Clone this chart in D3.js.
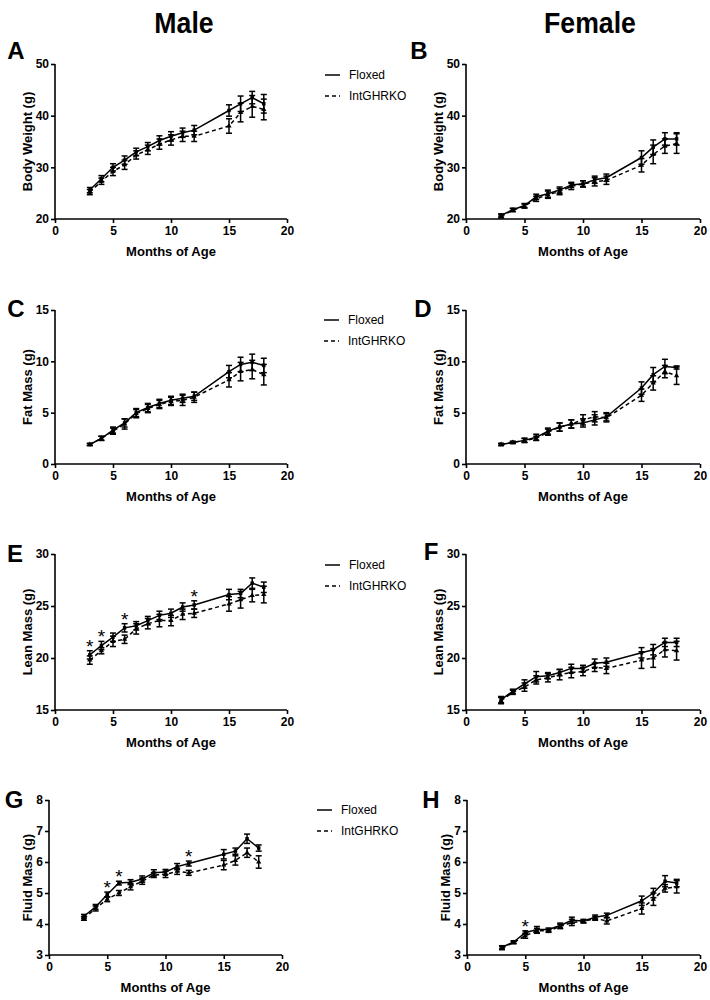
<!DOCTYPE html>
<html>
<head>
<meta charset="utf-8">
<script src="https://cdn.jsdelivr.net/npm/d3@7"></script>
<style>
  html, body { margin: 0; padding: 0; background: #fff; }
  svg { display: block; }
  text { font-family: "Liberation Sans", Arial, sans-serif; fill: #000; }
</style>
</head>
<body>
<svg id="chart" width="710" height="1000"></svg>
<script>
// ---------------- DATA ----------------
const months = [3, 4, 5, 6, 7, 8, 9, 10, 11, 12, 15, 16, 17, 18];
const seriesNames = ["Floxed", "IntGHRKO"];
const columnTitles = ["Male", "Female"];
const panelLetters = ["A", "B", "C", "D", "E", "F", "G", "H"];
const xTicks = [0, 5, 10, 15, 20];

// Body weight (g)
const bwMaleFlox   = [25.6, 27.8, 30.0, 31.4, 33.0, 34.0, 35.2, 36.0, 36.7, 37.2, 41.0, 42.3, 43.5, 42.3];
const bwMaleFloxSem= [0.5, 0.6, 0.7, 0.8, 0.7, 0.8, 0.9, 0.9, 0.9, 0.9, 1.1, 1.5, 1.2, 1.8];
const bwMaleKO     = [25.2, 27.3, 29.2, 30.5, 32.4, 33.4, 34.5, 35.3, 36.0, 36.0, 38.0, 40.6, 41.8, 41.2];
const bwMaleKOSem  = [0.5, 0.6, 0.8, 0.9, 0.8, 0.9, 1.0, 1.0, 1.0, 1.0, 1.4, 1.8, 2.1, 2.0];
const bwFemFlox    = [20.7, 21.8, 22.6, 24.3, 24.9, 25.6, 26.6, 26.8, 27.6, 28.0, 31.9, 33.9, 35.5, 35.5];
const bwFemFloxSem = [0.3, 0.3, 0.4, 0.5, 0.7, 0.6, 0.5, 0.6, 0.7, 0.7, 1.3, 1.4, 1.2, 1.2];
const bwFemKO      = [20.5, 21.7, 22.5, 23.9, 24.7, 25.3, 26.3, 26.8, 27.2, 27.5, 30.4, 32.5, 34.1, 34.6];
const bwFemKOSem   = [0.3, 0.3, 0.4, 0.5, 0.7, 0.6, 0.6, 0.6, 0.8, 0.8, 1.3, 1.8, 1.4, 1.9];

// Fat mass (g)
const fatMaleFlox    = [1.9, 2.5, 3.3, 4.0, 5.0, 5.5, 5.9, 6.2, 6.4, 6.6, 9.0, 9.7, 9.9, 9.6];
const fatMaleFloxSem = [0.1, 0.2, 0.3, 0.4, 0.4, 0.4, 0.4, 0.4, 0.4, 0.4, 0.6, 0.7, 0.8, 0.7];
const fatMaleKO      = [1.9, 2.5, 3.2, 3.9, 4.9, 5.4, 5.8, 6.1, 6.2, 6.5, 8.2, 9.0, 9.2, 8.7];
const fatMaleKOSem   = [0.1, 0.2, 0.3, 0.5, 0.4, 0.4, 0.4, 0.4, 0.5, 0.5, 0.7, 0.9, 0.9, 1.0];
const fatFemFlox     = [1.9, 2.1, 2.3, 2.6, 3.2, 3.6, 3.9, 4.0, 4.3, 4.6, 7.4, 8.7, 9.5, 9.4];
const fatFemFloxSem  = [0.1, 0.1, 0.2, 0.3, 0.3, 0.4, 0.4, 0.4, 0.5, 0.4, 0.6, 0.7, 0.7, 0.15];
const fatFemKO       = [1.9, 2.1, 2.3, 2.5, 3.1, 3.6, 3.9, 4.3, 4.6, 4.5, 6.7, 7.9, 9.0, 8.6];
const fatFemKOSem    = [0.1, 0.1, 0.2, 0.2, 0.3, 0.4, 0.4, 0.5, 0.5, 0.4, 0.6, 0.7, 0.6, 0.85];

// Lean mass (g)
const leanMaleFlox    = [20.3, 21.2, 22.0, 22.9, 23.1, 23.6, 24.1, 24.3, 24.9, 25.1, 26.1, 26.2, 27.2, 26.8];
const leanMaleFloxSem = [0.4, 0.4, 0.4, 0.4, 0.4, 0.4, 0.4, 0.4, 0.4, 0.4, 0.5, 0.4, 0.5, 0.5];
const leanMaleKO      = [19.8, 20.7, 21.6, 21.8, 22.8, 23.3, 23.6, 23.6, 24.2, 24.3, 25.2, 25.6, 26.0, 26.1];
const leanMaleKOSem   = [0.4, 0.3, 0.5, 0.4, 0.5, 0.5, 0.6, 0.5, 0.5, 0.4, 0.7, 0.8, 0.6, 0.8];
const leanFemFlox     = [16.0, 16.8, 17.5, 18.2, 18.3, 18.6, 19.0, 19.0, 19.5, 19.6, 20.5, 20.8, 21.5, 21.5];
const leanFemFloxSem  = [0.3, 0.2, 0.4, 0.5, 0.3, 0.3, 0.4, 0.3, 0.4, 0.4, 0.5, 0.5, 0.4, 0.4];
const leanFemKO       = [15.9, 16.7, 17.2, 17.9, 18.1, 18.4, 18.6, 18.7, 19.1, 19.0, 19.8, 20.0, 20.8, 20.7];
const leanFemKOSem    = [0.3, 0.2, 0.4, 0.4, 0.4, 0.5, 0.5, 0.4, 0.4, 0.5, 0.8, 0.9, 0.7, 0.9];

// Fluid mass (g)
const fluidMaleFlox    = [4.25, 4.55, 4.95, 5.32, 5.35, 5.45, 5.65, 5.68, 5.85, 5.95, 6.25, 6.35, 6.75, 6.45];
const fluidMaleFloxSem = [0.06, 0.08, 0.08, 0.06, 0.08, 0.1, 0.1, 0.08, 0.1, 0.08, 0.15, 0.1, 0.15, 0.1];
const fluidMaleKO      = [4.18, 4.5, 4.8, 5.0, 5.2, 5.38, 5.58, 5.6, 5.7, 5.65, 5.9, 6.05, 6.3, 6.0];
const fluidMaleKOSem   = [0.06, 0.08, 0.08, 0.08, 0.1, 0.1, 0.08, 0.1, 0.1, 0.08, 0.15, 0.15, 0.15, 0.2];
const fluidFemFlox     = [3.25, 3.42, 3.72, 3.82, 3.82, 3.95, 4.12, 4.1, 4.22, 4.28, 4.75, 5.0, 5.38, 5.32];
const fluidFemFloxSem  = [0.05, 0.04, 0.06, 0.1, 0.05, 0.08, 0.1, 0.05, 0.07, 0.07, 0.15, 0.15, 0.18, 0.12];
const fluidFemKO       = [3.22, 3.4, 3.62, 3.78, 3.78, 3.92, 4.05, 4.08, 4.18, 4.1, 4.5, 4.8, 5.15, 5.2];
const fluidFemKOSem    = [0.05, 0.04, 0.08, 0.08, 0.05, 0.07, 0.1, 0.05, 0.06, 0.1, 0.18, 0.2, 0.12, 0.2];

// Months marked significant (*)
const leanMaleSig  = [3, 4, 6, 12];
const fluidMaleSig = [5, 6, 12];
const fluidFemSig  = [5];

// Axis tick values
const bwTicks = [20, 30, 40, 50];
const fatTicks = [0, 5, 10, 15];
const leanTicks = [15, 20, 25, 30];
const fluidTicks = [3, 4, 5, 6, 7, 8];

// ---------------- LAYOUT ----------------
const panels = [
  {letter: panelLetters[0], x0: 55,  x1: 287, yTop: 64,  yBot: 219, ticks: bwTicks, label: "Body Weight (g)", flox: bwMaleFlox, floxSem: bwMaleFloxSem, ko: bwMaleKO, koSem: bwMaleKOSem, sig: [], legend: true, letterX: 16, letterY: 59, legX: 325, legY: 75},
  {letter: panelLetters[1], x0: 466, x1: 700, yTop: 64,  yBot: 219, ticks: bwTicks, label: "Body Weight (g)", flox: bwFemFlox, floxSem: bwFemFloxSem, ko: bwFemKO, koSem: bwFemKOSem, sig: [], legend: false, letterX: 419, letterY: 59},
  {letter: panelLetters[2], x0: 55,  x1: 287, yTop: 310, yBot: 464, ticks: fatTicks, label: "Fat Mass (g)", flox: fatMaleFlox, floxSem: fatMaleFloxSem, ko: fatMaleKO, koSem: fatMaleKOSem, sig: [], legend: true, letterX: 16, letterY: 317, legX: 324, legY: 320},
  {letter: panelLetters[3], x0: 466, x1: 700, yTop: 310, yBot: 464, ticks: fatTicks, label: "Fat Mass (g)", flox: fatFemFlox, floxSem: fatFemFloxSem, ko: fatFemKO, koSem: fatFemKOSem, sig: [], legend: false, letterX: 423, letterY: 317},
  {letter: panelLetters[4], x0: 55,  x1: 287, yTop: 554, yBot: 710, ticks: leanTicks, label: "Lean Mass (g)", flox: leanMaleFlox, floxSem: leanMaleFloxSem, ko: leanMaleKO, koSem: leanMaleKOSem, sig: leanMaleSig, legend: true, letterX: 15, letterY: 562, legX: 325, legY: 565},
  {letter: panelLetters[5], x0: 466, x1: 700, yTop: 554, yBot: 710, ticks: leanTicks, label: "Lean Mass (g)", flox: leanFemFlox, floxSem: leanFemFloxSem, ko: leanFemKO, koSem: leanFemKOSem, sig: [], legend: false, letterX: 431, letterY: 560},
  {letter: panelLetters[6], x0: 49,  x1: 282, yTop: 800, yBot: 955, ticks: fluidTicks, label: "Fluid Mass (g)", flox: fluidMaleFlox, floxSem: fluidMaleFloxSem, ko: fluidMaleKO, koSem: fluidMaleKOSem, sig: fluidMaleSig, legend: true, letterX: 14, letterY: 808, legX: 317, legY: 810},
  {letter: panelLetters[7], x0: 467, x1: 700, yTop: 800, yBot: 955, ticks: fluidTicks, label: "Fluid Mass (g)", flox: fluidFemFlox, floxSem: fluidFemFloxSem, ko: fluidFemKO, koSem: fluidFemKOSem, sig: fluidFemSig, legend: false, letterX: 431, letterY: 808}
];

const svg = d3.select("#chart");

// Column titles
[[184, columnTitles[0]], [590, columnTitles[1]]].forEach(([cx, t]) => {
  svg.append("text").attr("x", cx).attr("y", 33).attr("text-anchor", "middle")
    .attr("transform", `translate(${cx},0) scale(0.92,1) translate(${-cx},0)`)
    .style("font-weight", "bold").style("font-size", "29px").text(t);
});

panels.forEach(p => {
  const g = svg.append("g");
  const x = d3.scaleLinear().domain([0, 20]).range([p.x0, p.x1]);
  const y = d3.scaleLinear().domain(d3.extent(p.ticks)).range([p.yBot, p.yTop]);

  // Axes
  const xAxis = d3.axisBottom(x).tickValues(xTicks).tickSize(4).tickPadding(3).tickFormat(d3.format("d"));
  const yAxis = d3.axisLeft(y).tickValues(p.ticks).tickSize(4).tickPadding(2).tickFormat(d3.format("d"));
  const gx = g.append("g").attr("transform", `translate(0,${p.yBot})`).call(xAxis);
  const gy = g.append("g").attr("transform", `translate(${p.x0},0)`).call(yAxis);
  [gx, gy].forEach(a => {
    a.select(".domain").attr("stroke", "#000").attr("stroke-width", 1.6);
    a.selectAll(".tick line").attr("stroke", "#000").attr("stroke-width", 1.6);
    a.selectAll(".tick text").style("font-family", "'Liberation Sans', Arial, sans-serif")
      .style("font-weight", "bold").style("font-size", "12px").attr("fill", "#000");
  });
  gx.select(".domain").attr("d", `M${p.x0},0H${p.x1}`);
  gy.select(".domain").attr("d", `M0,${p.yBot}V${p.yTop}`);

  // Axis titles
  g.append("text").attr("x", (p.x0 + p.x1) / 2).attr("y", p.yBot + 37).attr("text-anchor", "middle")
    .style("font-weight", "bold").style("font-size", "13px").text("Months of Age");
  const maxLabelLen = d3.max(p.ticks, t => String(t).length);
  const labX = p.x0 - (maxLabelLen > 1 ? 28 : 22);
  g.append("text").attr("transform", `translate(${labX},${(p.yTop + p.yBot) / 2}) rotate(-90)`)
    .attr("text-anchor", "middle").attr("dy", "0.35em")
    .style("font-weight", "bold").style("font-size", "13px").text(p.label);

  // Panel letter
  g.append("text").attr("x", p.letterX).attr("y", p.letterY).attr("text-anchor", "middle")
    .style("font-weight", "bold").style("font-size", "24px").text(p.letter);

  const series = [
    {vals: p.ko, sem: p.koSem, dash: "4,3", marker: "tri"},
    {vals: p.flox, sem: p.floxSem, dash: null, marker: "sq"}
  ];
  series.forEach(s => {
    const pts = months.map((m, i) => ({m, v: s.vals[i], e: s.sem[i]}));
    const line = d3.line().x(d => x(d.m)).y(d => y(d.v));
    g.append("path").datum(pts).attr("d", line).attr("fill", "none")
      .attr("stroke", "#000").attr("stroke-width", 1.5)
      .attr("stroke-dasharray", s.dash);
    const eb = g.append("g").attr("stroke", "#000").attr("stroke-width", 1.5);
    pts.forEach(d => {
      const cx = x(d.m), yt = y(d.v + d.e), yb = y(d.v - d.e);
      eb.append("line").attr("x1", cx).attr("x2", cx).attr("y1", yt).attr("y2", yb);
      eb.append("line").attr("x1", cx - 3).attr("x2", cx + 3).attr("y1", yt).attr("y2", yt);
      eb.append("line").attr("x1", cx - 3).attr("x2", cx + 3).attr("y1", yb).attr("y2", yb);
    });
    const sym = d3.symbol().type(s.marker === "sq" ? d3.symbolSquare : d3.symbolTriangle).size(12);
    g.selectAll(null).data(pts).enter().append("path")
      .attr("d", sym).attr("transform", d => `translate(${x(d.m)},${y(d.v)})`).attr("fill", "#000");
  });

  // significance asterisks
  p.sig.forEach(m => {
    const i = months.indexOf(m);
    const top = y(p.flox[i] + p.floxSem[i]);
    g.append("text").attr("x", x(m)).attr("y", top + 2).attr("text-anchor", "middle")
      .style("font-size", "19px").text("*");
  });

  // Legend
  if (p.legend) {
    const lg = g.append("g");
    lg.append("line").attr("x1", p.legX).attr("x2", p.legX + 15).attr("y1", p.legY).attr("y2", p.legY)
      .attr("stroke", "#000").attr("stroke-width", 1.5);
    lg.append("text").attr("x", p.legX + 24).attr("y", p.legY).attr("dy", "0.35em")
      .style("font-size", "12px").text(seriesNames[0]);
    lg.append("line").attr("x1", p.legX).attr("x2", p.legX + 15).attr("y1", p.legY + 21).attr("y2", p.legY + 21)
      .attr("stroke", "#000").attr("stroke-width", 1.5).attr("stroke-dasharray", "4,3");
    lg.append("text").attr("x", p.legX + 24).attr("y", p.legY + 21).attr("dy", "0.35em")
      .style("font-size", "12px").text(seriesNames[1]);
  }
});
</script>
</body>
</html>
